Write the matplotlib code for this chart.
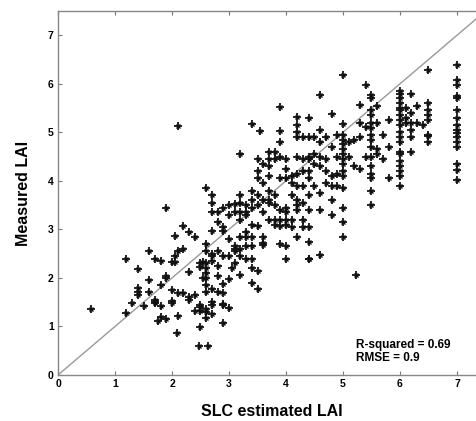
import matplotlib
matplotlib.use("Agg")
import matplotlib.pyplot as plt

plt.rcParams['font.family'] = ['Liberation Sans', 'DejaVu Sans']

columns = [
    (0.58, [1.37]),
    (1.2, [2.4, 1.28]),
    (1.3, [1.48]),
    (1.4, [2.18, 1.8, 1.72, 1.65]),
    (1.5, [1.42]),
    (1.6, [2.55, 1.95, 1.72]),
    (1.7, [2.38, 1.55, 1.5, 1.48]),
    (1.75, [1.12]),
    (1.8, [2.35, 1.85, 1.42, 1.2]),
    (1.9, [3.45, 2.05, 2.0, 1.15]),
    (2.0, [2.33, 1.75, 1.52, 1.48]),
    (2.05, [2.87, 2.45, 2.33]),
    (2.1, [5.13, 2.55, 1.68, 1.22]),
    (2.08, [0.86]),
    (2.2, [3.08, 2.6, 1.68]),
    (2.3, [2.95, 2.12, 1.6, 1.55]),
    (2.4, [2.85, 1.65, 1.32]),
    (2.5, [2.3, 2.22, 1.45, 1.4, 1.32, 0.98]),
    (2.48, [0.6]),
    (2.55, [2.33, 2.0]),
    (2.6, [3.85, 2.7, 2.55, 2.3, 2.2, 2.1, 2.0, 1.85, 1.7, 1.35, 1.3, 1.18]),
    (2.63, [0.6]),
    (2.7, [3.7, 3.55, 3.35, 2.97, 2.5, 2.45, 2.35, 1.77, 1.5, 1.45, 1.25]),
    (2.8, [3.35, 3.15, 2.55, 2.25, 2.05, 1.7]),
    (2.9, [3.45, 3.05, 2.97, 2.45, 1.87, 1.68, 1.47, 1.45, 1.07]),
    (3.0, [3.5, 3.3, 2.8, 2.45, 1.97, 1.38]),
    (3.1, [3.52, 3.35, 2.65, 2.6, 2.55, 2.3]),
    (3.05, [2.2]),
    (3.2, [4.55, 3.7, 3.55, 3.35, 3.2, 2.85, 2.6, 2.45, 2.07]),
    (3.3, [3.5, 3.35, 3.3, 2.95, 2.85, 2.65, 2.4]),
    (3.4, [5.17, 3.8, 3.6, 3.45, 3.1, 2.85, 2.65, 2.4, 2.2, 1.9]),
    (3.5, [4.45, 4.2, 4.05, 3.7, 3.5, 3.08, 2.15, 1.78]),
    (3.55, [5.02]),
    (3.6, [4.35, 3.95, 3.6, 3.35, 2.85, 2.72, 2.68]),
    (3.7, [4.6, 4.45, 4.3, 4.1, 3.8, 3.6, 3.55, 3.2]),
    (3.8, [4.6, 4.45, 3.7, 3.5, 3.2, 3.1]),
    (3.9, [5.52, 5.02, 4.8, 4.5, 4.05, 3.4, 3.2, 3.08, 2.7]),
    (4.0, [4.45, 4.25, 4.05, 3.45, 3.35, 3.2, 3.1, 2.65, 2.38]),
    (4.1, [4.1, 3.95, 3.7, 3.2, 3.05]),
    (4.2, [5.32, 5.15, 5.0, 4.9, 4.5, 4.15, 3.9, 3.6, 3.5, 3.4, 2.85]),
    (4.3, [4.9, 4.45, 4.2, 3.9, 3.55, 3.2, 3.05]),
    (4.4, [5.3, 4.9, 4.5, 4.45, 4.2, 4.05, 3.7, 3.4, 3.05, 2.75, 2.4, 2.38]),
    (4.5, [4.9, 4.55, 4.35, 3.9]),
    (4.6, [5.77, 5.05, 4.8, 4.5, 4.3, 3.75, 3.4, 2.48]),
    (4.7, [4.9, 4.45, 4.2, 3.95]),
    (4.8, [5.37, 4.7, 4.1, 3.9, 3.6, 3.3]),
    (4.9, [4.95, 4.5, 4.15, 3.9]),
    (5.0, [6.18, 5.17, 4.95, 4.85, 4.75, 4.65, 4.55, 4.45, 4.35, 4.2, 4.1, 3.85, 3.45, 3.15, 2.85]),
    (5.1, [4.8, 4.5]),
    (5.2, [4.85, 4.3]),
    (5.22, [2.07]),
    (5.3, [5.57, 5.2, 4.9, 4.25]),
    (5.4, [5.97, 5.1, 4.5]),
    (5.5, [5.77, 5.7, 5.45, 5.35, 5.2, 5.08, 4.95, 4.85, 4.7, 4.5, 4.3, 4.15, 4.05, 3.8, 3.5]),
    (5.6, [5.55, 5.2, 4.65, 4.55]),
    (5.7, [4.95, 4.45]),
    (5.8, [5.25, 4.7, 4.05]),
    (6.0, [5.85, 5.8, 5.7, 5.6, 5.5, 5.45, 5.35, 5.25, 5.15, 5.0, 4.9, 4.8, 4.6, 4.55, 4.4, 4.3, 4.2, 4.1, 3.9]),
    (6.1, [5.5, 5.3, 5.2]),
    (6.2, [5.78, 5.4, 5.2, 5.05, 4.9, 4.6]),
    (6.3, [5.55, 5.2]),
    (6.4, [5.15]),
    (6.5, [6.28, 5.6, 5.45, 5.35, 5.25, 4.95, 4.92, 4.8]),
    (7.0, [6.38, 6.07, 5.98, 5.75, 5.7, 5.45, 5.3, 5.15, 5.05, 4.98, 4.9, 4.8, 4.7, 4.35, 4.22, 4.02]),
]

slc_lai = [x for x, ys in columns for _ in ys]
measured_lai = [y for _, ys in columns for y in ys]

r2_text = "R-squared = 0.69"
rmse_text = "RMSE = 0.9"

fig = plt.figure(figsize=(4.76, 4.21), dpi=100)
ax = fig.add_axes([58/476, 1-375/421, 427.5/476, 364/421])

ax.plot([0, 7.5], [0, 7.5], color='#999999', lw=1.0, zorder=1)
ax.plot(slc_lai, measured_lai, linestyle='none', marker='+', ms=5.5, mew=1.3, color='#111111', zorder=2)
ax.plot(slc_lai, measured_lai, linestyle='none', marker='x', ms=3.4, mew=1.0, color='#111111', zorder=2)

ax.set_xlim(0, 7.5)
ax.set_ylim(0, 7.5)
ax.set_xticks(range(0, 8))
ax.set_yticks(range(0, 8))
ax.tick_params(direction='in', length=3, width=0.8, color='#777777', top=True, right=True,
               labelsize=7.5, pad=3)
for lab in ax.get_xticklabels() + ax.get_yticklabels():
    lab.set_fontweight('bold')
for s in ax.spines.values():
    s.set_color('#888888')
    s.set_linewidth(1.0)

ax.set_xlabel('SLC estimated LAI', fontsize=11.5, fontweight='bold', labelpad=11)
ax.set_ylabel('Measured LAI', fontsize=11.5, fontweight='bold', labelpad=12)

ax.text(5.23, 0.74, r2_text + "\n" + rmse_text, fontsize=8.5, fontweight='bold',
        va='top', ha='left', linespacing=1.1)

fig.savefig('out.png', dpi=100)
